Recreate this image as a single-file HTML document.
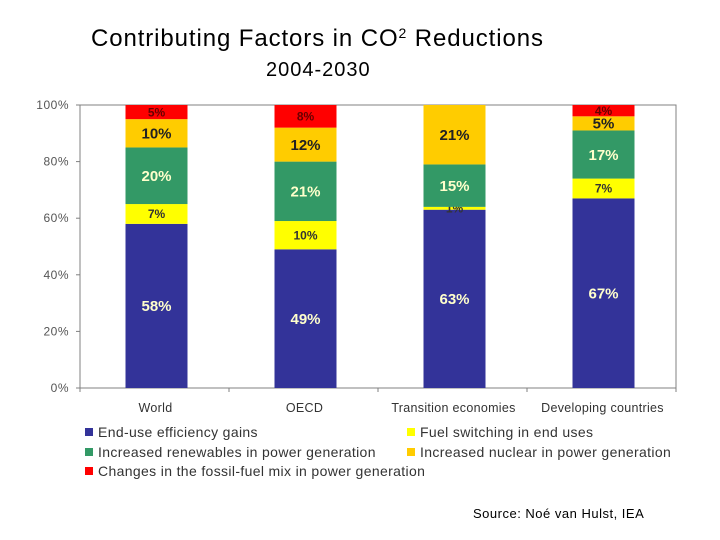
<!DOCTYPE html>
<html><head><meta charset="utf-8">
<style>
body{margin:0;background:#fff;}
svg{display:block;font-family:"Liberation Sans",Arial,sans-serif;}
</style></head>
<body>
<svg id="chart" width="720" height="540" viewBox="0 0 720 540">
<text x="91" y="46" font-size="24" letter-spacing="0.9" fill="#000">Contributing Factors in CO<tspan font-size="14" dy="-8">2</tspan><tspan dy="8"> Reductions</tspan></text>
<text x="266" y="76" font-size="20" letter-spacing="1" fill="#000">2004-2030</text>
<g id="plot"></g>
<g id="legend"></g>
<text x="473" y="518" font-size="13" letter-spacing="0.5" fill="#000">Source: Noé van Hulst, IEA</text>
</svg>
<script>
const categories = ["World","OECD","Transition economies","Developing countries"];
const seriesNames = ["End-use efficiency gains","Fuel switching in end uses","Increased renewables in power generation","Increased nuclear in power generation","Changes in the fossil-fuel mix in power generation"];
const efficiency = [58,49,63,67];
const fuelSwitching = [7,10,1,7];
const renewables = [20,21,15,17];
const nuclear = [10,12,21,5];
const fossilMix = [5,8,0,4];
const yTicks = [0,20,40,60,80,100];

const series = [efficiency,fuelSwitching,renewables,nuclear,fossilMix];
const colors = ["#333399","#ffff00","#339966","#ffcc00","#ff0000"];
const labelColors = ["#ffffcc","#333333","#ffffcc","#222222","#660000"];
const labelSizes = [15,12,15,15,12];
const NS="http://www.w3.org/2000/svg";
const L=80,R=676,T=105,B=388;
const catW=(R-L)/categories.length, barW=62;
function y(v){return B-(v/100)*(B-T);}
function xc(i){return L+catW*(i+0.5)+2;}
const plot=document.getElementById('plot');
function mk(tag,attrs,parent){const e=document.createElementNS(NS,tag);for(const k in attrs)e.setAttribute(k,attrs[k]);(parent||plot).appendChild(e);return e;}

let fr=mk('path',{d:`M${L},${T} H${R} V${B}`,fill:'none',stroke:'#808080','stroke-width':1});


let ya=mk('line',{x1:L,y1:T,x2:L,y2:B,stroke:'#808080'});


let xa=mk('line',{x1:L,y1:B,x2:R,y2:B,stroke:'#808080'});


yTicks.forEach(t=>{
  const tk=mk('line',{x1:L-4,y1:y(t),x2:L,y2:y(t),stroke:'#808080'});
  
  
  const tx=mk('text',{x:L-11,y:y(t)+4,'text-anchor':'end','font-size':12,'letter-spacing':0.5,fill:'#555'});
  tx.textContent=t+'%';
  
  
});
for(let i=0;i<=categories.length;i++){
  const tk=mk('line',{x1:L+catW*i,y1:B,x2:L+catW*i,y2:B+4,stroke:'#808080'});
  
  
}
categories.forEach((c,i)=>{
  let acc=0;
  series.forEach((s,k)=>{
    const v=s[i]; const y0=y(acc), y1=y(acc+v);
    if(v>0){
      const r=mk('rect',{x:xc(i)-barW/2,y:y1,width:barW,height:y0-y1,fill:colors[k]});
      
      
      const t=mk('text',{x:xc(i),y:(y0+y1)/2+labelSizes[k]*0.35,'text-anchor':'middle','font-size':labelSizes[k],'font-weight':'bold',fill:labelColors[k]});
      t.textContent=v+'%';
      
      
    }
    acc+=v;
  });
  const cl=mk('text',{x:xc(i)-1,y:B+24,'text-anchor':'middle','font-size':12.5,'letter-spacing':0.3,fill:'#333'});
  cl.textContent=c;
  
  
});
const lg=document.getElementById('legend');
const pos=[[85,432],[407,432],[85,452],[407,452],[85,471]];
[0,1,2,3,4].forEach((k,j)=>{
  const [px,py]=pos[j];
  const sq=mk('rect',{x:px,y:py-4,width:8,height:8,fill:colors[k]},lg);
  
  
  const t=mk('text',{x:px+13,y:py+5,'font-size':14,'letter-spacing':0.35,fill:'#333'},lg);
  t.textContent=seriesNames[k];
  
  
});
</script>
</body></html>
